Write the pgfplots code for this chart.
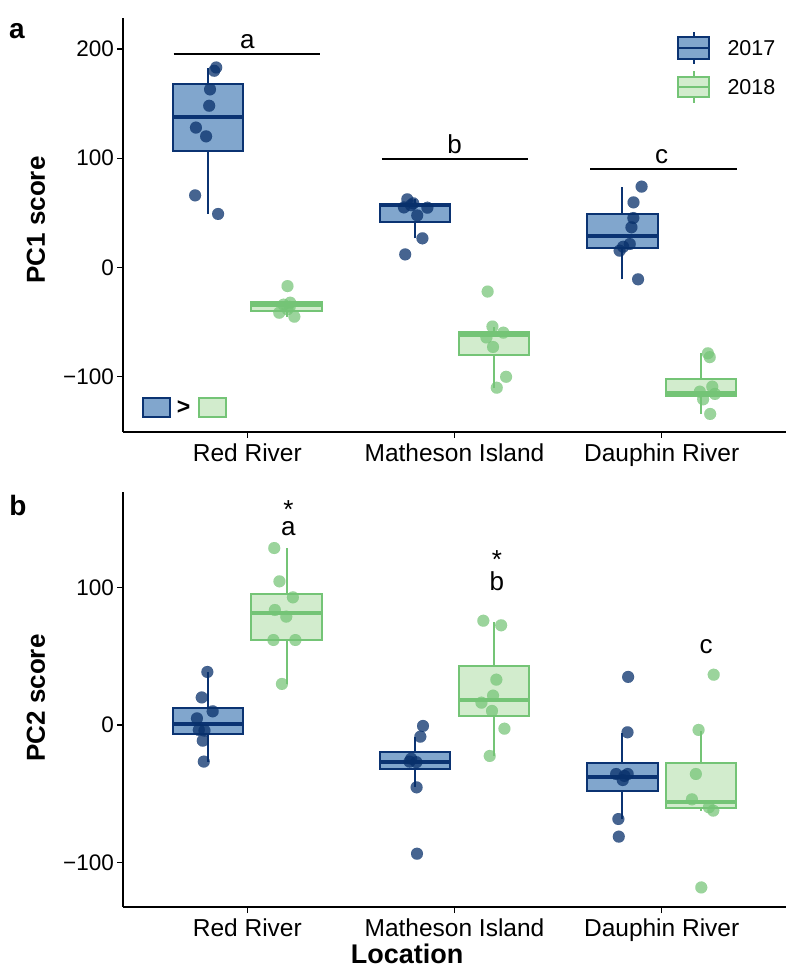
\documentclass[border=0pt]{standalone}
\usepackage{fontspec}
\setmainfont{Liberation Sans}
\usepackage{pgfplots}
\pgfplotsset{compat=1.18}
\definecolor{navy}{HTML}{0B3372}
\definecolor{navypt}{HTML}{08306B}
\definecolor{navyfill}{HTML}{81A6CD}
\definecolor{grn}{HTML}{74C476}
\definecolor{grnfill}{HTML}{D2ECCD}
\pgfplotsset{
  panel/.style={scale only axis, width=663pt, xmin=0.4, xmax=3.6,
    axis x line*=bottom, axis y line*=left,
    axis line style={line width=1.7pt, black},
    tick style={line width=1.4pt, black}, tick align=outside, major tick length=6pt,
    xtick={1,2,3}, xticklabels={Red River, Matheson Island, Dauphin River},
    yticklabel style={font=\fontsize{22.5}{26}\selectfont, black, inner sep=3pt},
    xticklabel style={font=\fontsize{24.5}{28}\selectfont, black, inner sep=5.5pt},
    clip=false},
  p17/.style={only marks, mark=*, mark size=6pt, color=navypt, mark options={line width=0.01pt, fill=navypt, fill opacity=0.75, draw opacity=0.75}},
  p18/.style={only marks, mark=*, mark size=6pt, color=grn, mark options={line width=0.01pt, fill=grn, fill opacity=0.72, draw opacity=0.72}},
  sig/.style={black, line width=2pt},
}
% box: #1 left, #2 right, #3 centre, #4 lw, #5 lq, #6 med, #7 uq, #8 uw, #9 colour
\newcommand{\bxp}[9]{%
  \addplot[#9, line width=2pt] coordinates {(#3,#4) (#3,#5)};
  \addplot[#9, line width=2pt] coordinates {(#3,#7) (#3,#8)};
  \addplot[draw=#9, fill=#9fill, line width=2pt] coordinates {(#1,#5) (#2,#5) (#2,#7) (#1,#7)} --cycle;
  \addplot[#9, line width=4pt] coordinates {(#1,#6) (#2,#6)};
}
\newcommand{\letf}{\fontsize{26}{30}\selectfont}
\begin{document}
\begin{tikzpicture}
\useasboundingbox (0pt,0pt) rectangle (789pt,969pt);
% ---------------- panel a ----------------
\begin{axis}[panel, at={(123pt,537pt)}, anchor=south west, height=414pt,
  ymin=-150.5, ymax=228.3, ytick={-100,0,100,200}, yticklabels={−100,0,100,200}]
\bxp{0.64}{0.98}{0.81}{49}{106.6}{138}{167.9}{182.8}{navy}
\bxp{1.64}{1.98}{1.81}{26.7}{42}{57}{58.5}{62.4}{navy}
\bxp{2.64}{2.98}{2.81}{-10.8}{17.8}{29}{49}{74}{navy}
\bxp{1.02}{1.36}{1.19}{-45}{-40}{-34.5}{-31.5}{-31}{grn}
\bxp{2.02}{2.36}{2.19}{-110}{-80}{-62}{-58.7}{-54}{grn}
\bxp{3.02}{3.36}{3.19}{-134}{-117.6}{-114.5}{-102}{-78.5}{grn}
\addplot[p17] coordinates {(0.850,183) (0.840,180) (0.820,163) (0.816,148) (0.752,128) (0.801,120) (0.748,66) (0.859,49)};
\addplot[p17] coordinates {(1.772,62.4) (1.756,55) (1.801,58.7) (1.869,54.7) (1.820,47.7) (1.845,26.7) (1.762,12) (1.79,57)};
\addplot[p17] coordinates {(2.903,74) (2.864,59.6) (2.863,45.3) (2.854,36.8) (2.846,21.5) (2.814,19) (2.797,15.4) (2.886,-10.8)};
\addplot[p18] coordinates {(1.194,-17) (1.207,-32.2) (1.205,-35.9) (1.154,-41.4) (1.227,-45) (1.194,-38.2) (1.175,-34)};
\addplot[p18] coordinates {(2.160,-22) (2.183,-54) (2.236,-59.6) (2.154,-64) (2.186,-72.7) (2.249,-100) (2.204,-110)};
\addplot[p18] coordinates {(3.223,-78.5) (3.232,-82) (3.244,-109) (3.184,-113.6) (3.257,-115.7) (3.200,-120.6) (3.234,-134)};
\addplot[sig] coordinates {(0.644,195.6) (1.350,195.6)};
\addplot[sig] coordinates {(1.650,99.5) (2.355,99.5)};
\addplot[sig] coordinates {(2.655,89.8) (3.363,89.8)};
\node[anchor=base, font=\letf, inner sep=0pt] at (axis cs:1,200.5) {a};
\node[anchor=base, font=\letf, inner sep=0pt] at (axis cs:2,104.5) {b};
\node[anchor=base, font=\letf, inner sep=0pt] at (axis cs:3,95.3) {c};
\end{axis}
% ---------------- panel b ----------------
\begin{axis}[panel, at={(123pt,62pt)}, anchor=south west, height=415pt,
  ymin=-132.2, ymax=169.2, ytick={-100,0,100}, yticklabels={−100,0,100}]
\bxp{0.64}{0.98}{0.81}{-26.6}{-6.8}{0.5}{12.1}{38.3}{navy}
\bxp{1.64}{1.98}{1.81}{-44.8}{-31.7}{-26.6}{-19.9}{-8.5}{navy}
\bxp{2.64}{2.98}{2.81}{-68.3}{-47.7}{-37.5}{-27.8}{-6}{navy}
\bxp{1.02}{1.36}{1.19}{29.8}{61.5}{81.1}{95.4}{128.3}{grn}
\bxp{2.02}{2.36}{2.19}{-22.5}{6.5}{18.2}{42.8}{75}{grn}
\bxp{3.02}{3.36}{3.19}{-62.2}{-60.5}{-56.1}{-27.8}{-4.1}{grn}
\addplot[p17] coordinates {(0.807,38.5) (0.780,20) (0.833,9.9) (0.757,4.8) (0.793,-4.1) (0.766,-3.6) (0.785,-11.4) (0.790,-26.6)};
\addplot[p17] coordinates {(1.848,-0.7) (1.835,-8.5) (1.783,-26.6) (1.791,-24.5) (1.816,-27) (1.817,-45.3) (1.819,-93.5)};
\addplot[p17] coordinates {(2.838,34.9) (2.835,-5.3) (2.780,-35.6) (2.836,-35.6) (2.812,-40) (2.791,-68.3) (2.793,-81.1) (2.82,-37)};
\addplot[p18] coordinates {(1.130,128.5) (1.155,104.3) (1.220,92.7) (1.133,83.5) (1.188,78.7) (1.126,61.7) (1.232,61.7) (1.167,29.8)};
\addplot[p18] coordinates {(2.139,75.7) (2.225,72.4) (2.202,32.9) (2.186,21.3) (2.130,16.2) (2.181,10.2) (2.241,-2.7) (2.170,-22.5)};
\addplot[p18] coordinates {(3.251,36.5) (3.178,-3.6) (3.165,-35.6) (3.146,-54) (3.228,-59.8) (3.249,-62.2) (3.191,-118)};
\node[anchor=base, font=\letf, inner sep=0pt] at (axis cs:1.198,137.3) {\shortstack{*\\a}};
\node[anchor=base, font=\letf, inner sep=0pt] at (axis cs:2.205,98) {\shortstack{*\\b}};
\node[anchor=base, font=\letf, inner sep=0pt] at (axis cs:3.214,52) {c};
\end{axis}
% ---------------- titles ----------------
\node[font=\fontsize{26}{30}\selectfont\bfseries, rotate=90] at (36pt,749pt) {PC1 score};
\node[font=\fontsize{26}{30}\selectfont\bfseries, rotate=90] at (36pt,271pt) {PC2 score};
\node[font=\fontsize{27}{30}\selectfont\bfseries, inner sep=0pt] at (407pt,15pt) {Location};
\node[font=\fontsize{28}{30}\selectfont\bfseries] at (17pt,938pt) {a};
\node[font=\fontsize{28}{30}\selectfont\bfseries] at (18pt,464pt) {b};
% ---------------- legend ----------------
\draw[navy, line width=2pt] (693.5pt,905pt) -- (693.5pt,937pt);
\draw[navy, fill=navyfill, line width=2pt] (678pt,910pt) rectangle (709pt,932pt);
\draw[navy, line width=2pt] (678pt,921pt) -- (709pt,921pt);
\node[anchor=west, font=\fontsize{21.5}{24}\selectfont] at (724pt,921pt) {2017};
\draw[grn, line width=2pt] (693.5pt,866pt) -- (693.5pt,898pt);
\draw[grn, fill=grnfill, line width=2pt] (678pt,872pt) rectangle (709pt,892pt);
\draw[grn, line width=2pt] (678pt,882pt) -- (709pt,882pt);
\node[anchor=west, font=\fontsize{21.5}{24}\selectfont] at (724pt,882pt) {2018};
% ---------------- box > box ----------------
\draw[navy, fill=navyfill, line width=2pt] (143pt,552pt) rectangle (170pt,571pt);
\node[font=\fontsize{23}{26}\selectfont\bfseries] at (183.5pt,561.5pt) {>};
\draw[grn, fill=grnfill, line width=2pt] (198.5pt,552pt) rectangle (226pt,571pt);
\end{tikzpicture}
\end{document}
